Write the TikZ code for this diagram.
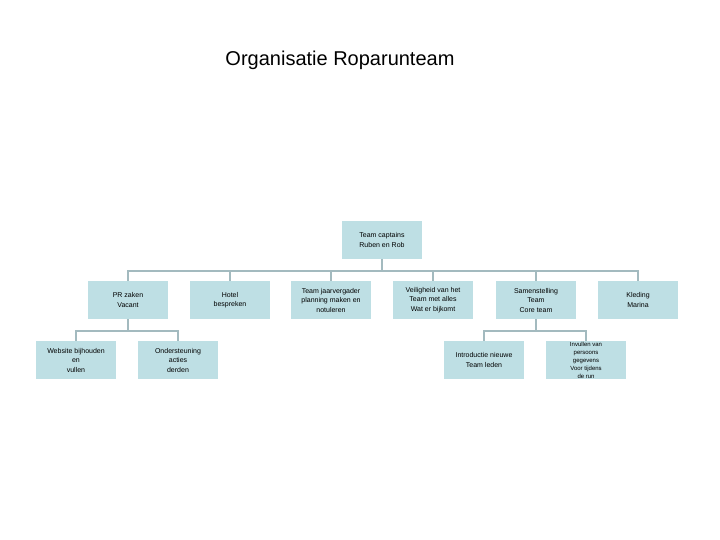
\documentclass[tikz,border=0pt]{standalone}
\usepackage{fontspec}
\setmainfont{Liberation Sans}
\definecolor{boxfill}{RGB}{190,223,228}
\definecolor{busline}{RGB}{163,186,191}
\tikzset{
  orgbox/.style={fill=boxfill, minimum width=80pt, minimum height=38pt, align=center, inner sep=1pt,
    font=\fontsize{7}{9.5}\selectfont},
  bus/.style={draw=busline, line width=2.6pt}
}
\begin{document}
\begin{tikzpicture}[x=1pt,y=-1pt]
\useasboundingbox (0,0) rectangle (720,540);
\node[font=\fontsize{20}{24}\selectfont] (title) at (340,60) {Organisatie Roparunteam};

\node[orgbox] (a0) at (382,240) {Team captains\\Ruben en Rob};

\node[orgbox] (a11) at (128,300) {PR zaken\\Vacant};
\node[orgbox] (a12) at (230,300) {Hotel\\bespreken};
\node[orgbox] (a13) at (331,300) {Team jaarvergader\\planning maken en\\notuleren};
\node[orgbox] (a14) at (433,300) {Veiligheid van het\\Team met alles\\Wat er bijkomt};
\node[orgbox] (a15) at (536,300) {Samenstelling\\Team\\Core team};
\node[orgbox] (a16) at (638,300) {Kleding\\Marina};

\node[orgbox] (a21) at (76,360) {Website bijhouden\\en\\vullen};
\node[orgbox] (a22) at (178,360) {Ondersteuning\\acties\\derden};
\node[orgbox] (a23) at (484,360) {Introductie nieuwe\\Team leden};
\node[orgbox, font=\fontsize{6}{8}\selectfont] (a24) at (586,360) {Invullen van\\persoons\\gegevens\\Voor tijdens\\de run};

\draw[bus] (a0.south) -- ++(0,12);
\draw[bus] (a11.north) -- ++(0,-10) -| (a16.north);
\foreach \n in {a12,a13,a14,a15}
  \draw[bus] (\n.north) -- ++(0,-10);

\draw[bus] (a11.south) -- ++(0,12);
\draw[bus] (a21.north) -- ++(0,-10) -| (a22.north);
\draw[bus] (a15.south) -- ++(0,12);
\draw[bus] (a23.north) -- ++(0,-10) -| (a24.north);
\end{tikzpicture}
\end{document}
